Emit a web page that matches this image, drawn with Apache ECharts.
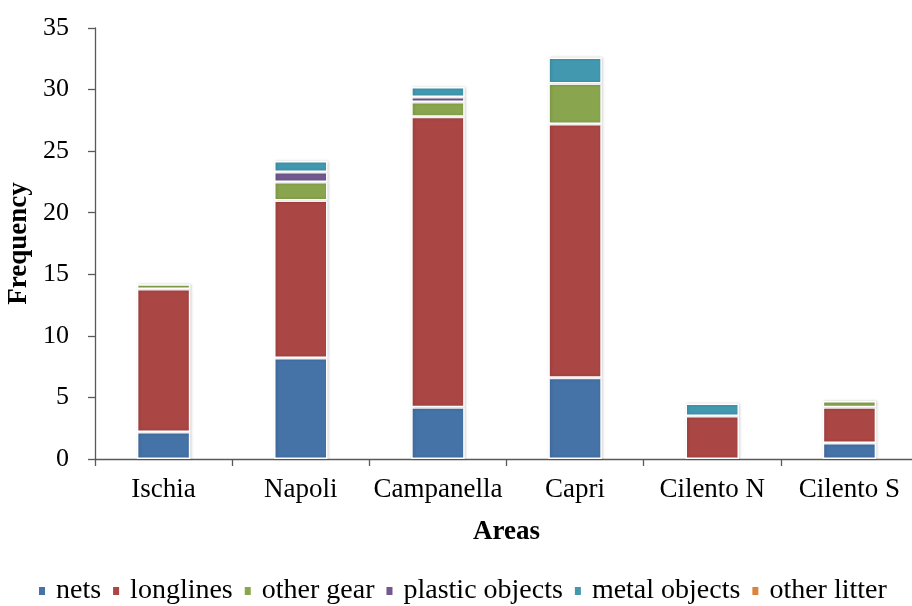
<!DOCTYPE html>
<html>
<head>
<meta charset="utf-8">
<script src="https://cdn.jsdelivr.net/npm/echarts@6/dist/echarts.min.js"></script>
<style>
  html, body { margin: 0; padding: 0; background: #fff; }
  #chart { width: 912px; height: 606px; }
</style>
</head>
<body>
<div id="chart"></div>
<script>
// Areas surveyed and the frequency of each litter type
const areas = ['Ischia', 'Napoli', 'Campanella', 'Capri', 'Cilento N', 'Cilento S'];
const nets          = [2.2, 8.2, 4.2, 6.6, 0, 1.3];
const longlines     = [11.6, 12.8, 23.6, 20.6, 3.5, 2.9];
const otherGear     = [0.4, 1.5, 1.2, 3.3, 0, 0.5];
const plasticObjects = [0, 0.8, 0.4, 0, 0, 0];
const metalObjects  = [0, 0.9, 0.8, 2.1, 1.0, 0];
const otherLitter   = [0, 0, 0, 0, 0, 0];

const yTicks = { min: 0, max: 35, interval: 5 };

const seriesDefs = [
  { name: 'nets', data: nets, color: '#4572A7' },
  { name: 'longlines', data: longlines, color: '#AA4643' },
  { name: 'other gear', data: otherGear, color: '#89A54E' },
  { name: 'plastic objects', data: plasticObjects, color: '#71588F' },
  { name: 'metal objects', data: metalObjects, color: '#4198AF' },
  { name: 'other litter', data: otherLitter, color: '#DB843D' }
];

const font = "'Liberation Serif', 'Times New Roman', serif";
const chart = echarts.init(document.getElementById('chart'));

chart.setOption({
  animation: false,
  textStyle: { fontFamily: font },
  grid: { left: 95, top: 28, width: 823, bottom: 147, containLabel: false, outerBoundsMode: 'none' },
  legend: {
    top: 572,
    left: 32,
    icon: 'rect',
    itemWidth: 8,
    itemHeight: 10,
    itemGap: 10,
    textStyle: { fontFamily: font, fontSize: 28, color: '#000', padding: [5, 0, 0, 5] },
    data: seriesDefs.map(s => s.name)
  },
  xAxis: {
    type: 'category',
    data: areas,
    name: 'Areas',
    nameLocation: 'middle',
    nameGap: 60,
    nameTextStyle: { fontFamily: font, fontSize: 27, fontWeight: 'bold', color: '#000' },
    axisLine: { lineStyle: { color: '#595959', width: 1.3 } },
    axisTick: { show: true, interval: 0, length: 7, lineStyle: { color: '#595959', width: 1.3 } },
    axisLabel: { interval: 0, fontFamily: font, fontSize: 27, color: '#000', margin: 17 }
  },
  yAxis: {
    type: 'value',
    min: yTicks.min,
    max: yTicks.max,
    interval: yTicks.interval,
    name: 'Frequency',
    nameLocation: 'middle',
    nameGap: 61,
    nameRotate: 90,
    nameTextStyle: { fontFamily: font, fontSize: 27, fontWeight: 'bold', color: '#000' },
    splitLine: { show: false },
    axisLine: { show: true, lineStyle: { color: '#595959', width: 1.3 } },
    axisTick: { show: true, inside: false, length: 7, lineStyle: { color: '#595959', width: 1.3 } },
    axisLabel: { fontFamily: font, fontSize: 26, color: '#000', margin: 26 }
  },
  series: seriesDefs.map(s => ({
    name: s.name,
    type: 'bar',
    stack: 'total',
    barWidth: '39%',
    // empty segments are left out so they draw no border
    data: s.data.map(v => (v === 0 ? '-' : v)),
    itemStyle: {
      color: s.color,
      borderColor: '#ffffff',
      borderWidth: 1.5,
      shadowColor: 'rgba(0,0,0,0.18)',
      shadowBlur: 3,
      shadowOffsetX: 1
    }
  }))
});
</script>
</body>
</html>
